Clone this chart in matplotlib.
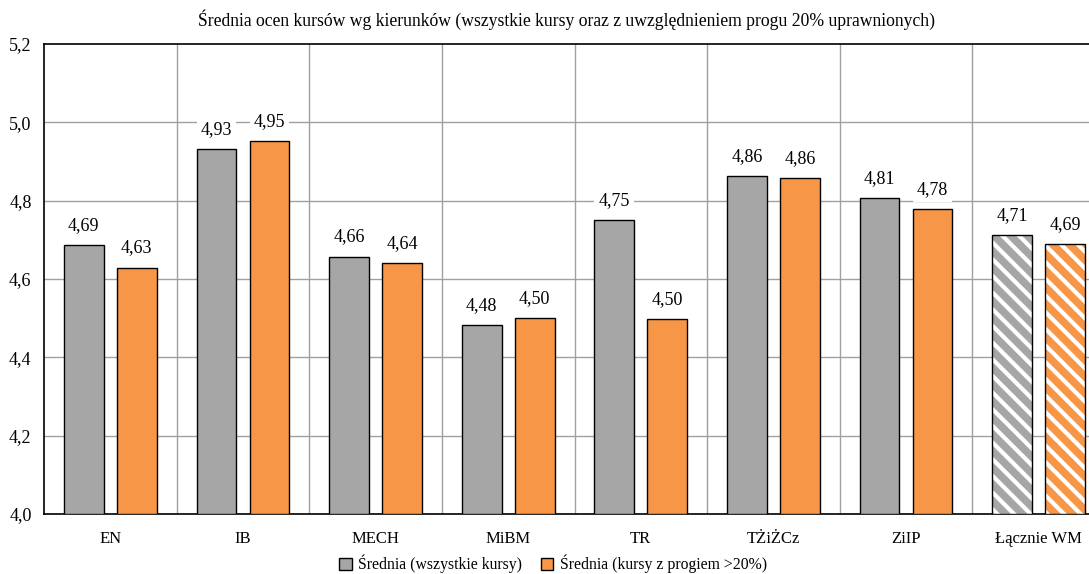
import matplotlib.pyplot as plt
import numpy as np

plt.rcParams['font.family'] = ['Liberation Serif', 'DejaVu Serif']
plt.rcParams['hatch.linewidth'] = 3.0

kierunki = ["EN", "IB", "MECH", "MiBM", "TR", "TŻiŻCz", "ZiIP", "Łącznie WM"]
srednia_wszystkie = [4.687, 4.932, 4.657, 4.482, 4.750, 4.862, 4.806, 4.712]
srednia_prog = [4.629, 4.952, 4.641, 4.500, 4.498, 4.858, 4.779, 4.689]

kolor_szary = "#a6a6a6"
kolor_pomar = "#f79646"

fig = plt.figure(figsize=(10.89, 5.74), dpi=100)
ax = fig.add_axes([44 / 1089, 60 / 574, 1061 / 1089, 470 / 574])

x = np.arange(len(kierunki))
szer = 0.3
ost = len(kierunki) - 1

for i in x:
    for wart, dx, kol in ((srednia_wszystkie[i], -0.2, kolor_szary), (srednia_prog[i], 0.2, kolor_pomar)):
        if i == ost:
            # ostatnia grupa - kreskowana
            ax.bar(i + dx, wart - 4.0, szer, bottom=4.0, color=kol, edgecolor="white",
                   hatch="\\\\", linewidth=0, zorder=3)
            ax.bar(i + dx, wart - 4.0, szer, bottom=4.0, fill=False, edgecolor="black",
                   linewidth=1, zorder=4)
        else:
            ax.bar(i + dx, wart - 4.0, szer, bottom=4.0, color=kol, edgecolor="black",
                   linewidth=1, zorder=3)
        ax.text(i + dx, wart + 0.05, f"{wart:.2f}".replace(".", ","), ha="center", va="center",
                fontsize=13, zorder=5,
                bbox=dict(facecolor="white", edgecolor="none", pad=3))

ax.set_xlim(-0.5, len(kierunki) - 0.5)
ax.set_ylim(4.0, 5.2)
yt = np.arange(4.0, 5.21, 0.2)
ax.set_yticks(yt)
ax.set_yticklabels([f"{v:.1f}".replace(".", ",") for v in yt], fontsize=13)
ax.set_xticks(x)
ax.set_xticklabels(kierunki, fontsize=12)
ax.tick_params(length=0)
ax.tick_params(axis="x", pad=12)
ax.tick_params(axis="y", pad=9)

for v in yt[1:-1]:
    ax.axhline(v, color="#a0a0a0", linewidth=1, zorder=1)
for g in np.arange(0.5, len(kierunki) - 0.5, 1):
    ax.axvline(g, color="#a0a0a0", linewidth=1, zorder=1)

for s in ("left", "top", "bottom"):
    ax.spines[s].set_color("black")
    ax.spines[s].set_linewidth(1.2)
ax.spines["right"].set_visible(False)

fig.text(567 / 1089, 1 - 20 / 574,
         "Średnia ocen kursów wg kierunków (wszystkie kursy oraz z uwzględnieniem progu 20% uprawnionych)",
         ha="center", va="center", fontsize=12.7)

h1 = plt.Rectangle((0, 0), 1, 1, facecolor=kolor_szary, edgecolor="black")
h2 = plt.Rectangle((0, 0), 1, 1, facecolor=kolor_pomar, edgecolor="black")
fig.legend([h1, h2], ["Średnia (wszystkie kursy)", "Średnia (kursy z progiem >20%)"],
           loc="center", bbox_to_anchor=(553 / 1089, 1 - 564 / 574), ncol=2, frameon=False,
           fontsize=11.3, handlelength=0.8, handleheight=0.8, handletextpad=0.4, columnspacing=1.2,
           borderpad=0.1)

fig.savefig("out.png", dpi=100)
